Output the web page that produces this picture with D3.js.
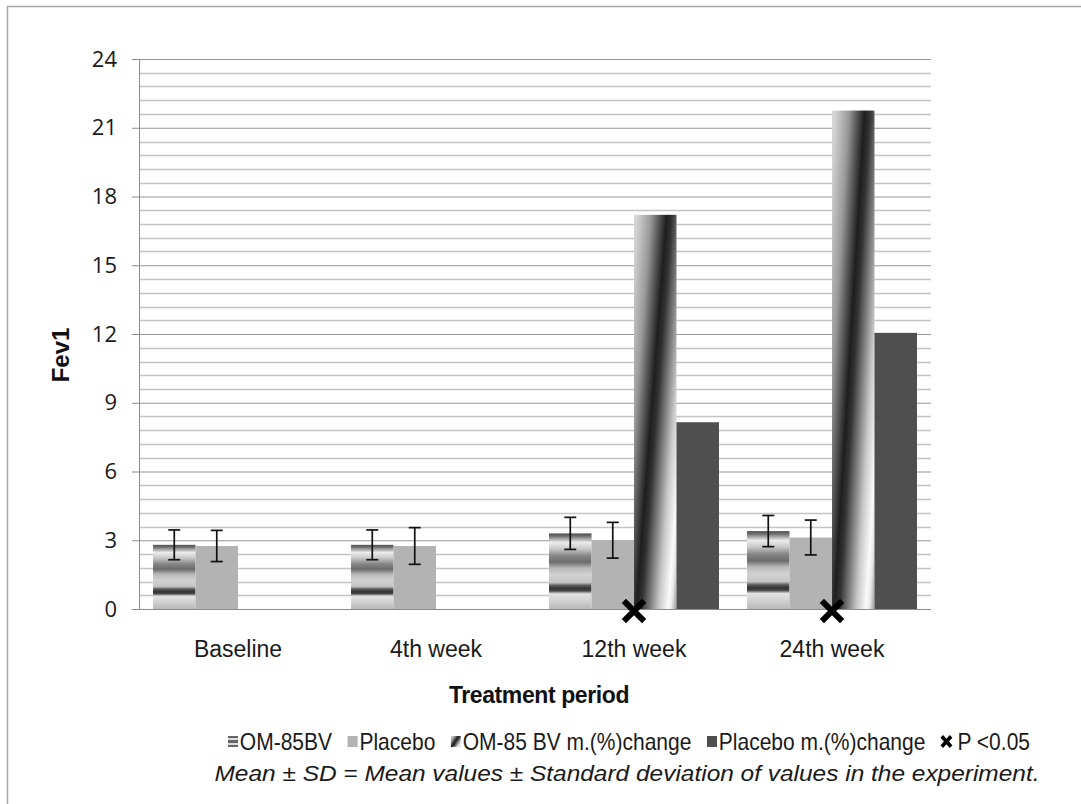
<!DOCTYPE html>
<html><head><meta charset="utf-8">
<script src="https://cdn.jsdelivr.net/npm/d3@7"></script>
<style>body{margin:0;background:#fff}svg{display:block}</style>
</head><body><svg id="c" width="1081" height="804"></svg>
<script>
// ---- data ----
const categories = ["Baseline", "4th week", "12th week", "24th week"];
const seriesNames = ["OM-85BV", "Placebo", "OM-85 BV m.(%)change", "Placebo m.(%)change"];
const omMean = [2.8, 2.8, 3.3, 3.4];
const omSD = [0.65, 0.65, 0.7, 0.68];
const placeboMean = [2.75, 2.75, 3.0, 3.12];
const placeboSD = [0.68, 0.8, 0.78, 0.76];
const omChange = [0, 0, 17.2, 21.75];
const placeboChange = [0, 0, 8.15, 12.05];
const significant = [false, false, true, true];
const yTicks = [0, 3, 6, 9, 12, 15, 18, 21, 24];
const sigLabel = "P <0.05";
const xTitle = "Treatment period";
const yTitle = "Fev1";
const footnote = "Mean \u00B1 SD = Mean values \u00B1 Standard deviation of values in the experiment.";

// ---- setup ----
const svg = d3.select("#c");
const defs = svg.append("defs");

// OM-85BV striped vertical gradient
const gOm = defs.append("linearGradient").attr("id", "gOm")
  .attr("x1", 0).attr("y1", 0).attr("x2", 0).attr("y2", 1);
[[0,"#555"],[0.03,"#666"],[0.12,"#ececec"],[0.2,"#cbcbcb"],[0.3,"#858585"],[0.38,"#6c6c6c"],
 [0.46,"#b8b8b8"],[0.55,"#d2d2d2"],[0.65,"#c4c4c4"],[0.69,"#5a5a5a"],[0.73,"#333"],[0.76,"#474747"],
 [0.8,"#e2e2e2"],[0.9,"#d0d0d0"],[1,"#b8b8b8"]]
 .forEach(([o,c]) => gOm.append("stop").attr("offset", o).attr("stop-color", c));

// OM-85 BV change diagonal gradient
const cmax = 1.72;
const gCh = defs.append("linearGradient").attr("id", "gCh")
  .attr("x1", 0).attr("y1", 0).attr("x2", 1.1328).attr("y2", 0.8156);
[[0,"#dadada"],[0.1,"#cfcfcf"],[0.4,"#999"],[0.6,"#555"],[0.77,"#1e1e1e"],[0.9,"#333"],
 [1.0,"#5a5a5a"],[1.3,"#c8c8c8"],[1.52,"#fafafa"],[1.6,"#e8e8e8"],[1.72,"#9a9a9a"]]
 .forEach(([c,col]) => gCh.append("stop").attr("offset", c / cmax).attr("stop-color", col));

// legend icon stripes
const gIcon = defs.append("linearGradient").attr("id", "gIcon")
  .attr("x1", 0).attr("y1", 0).attr("x2", 0).attr("y2", 1);
[[0,"#666"],[0.2,"#666"],[0.2,"#ddd"],[0.4,"#ddd"],[0.4,"#666"],[0.6,"#666"],[0.6,"#ddd"],[0.8,"#ddd"],[0.8,"#666"],[1,"#666"]]
 .forEach(([o,c]) => gIcon.append("stop").attr("offset", o).attr("stop-color", c));

const fills = {
  "OM-85BV": "url(#gOm)",
  "Placebo": "#b3b3b3",
  "OM-85 BV m.(%)change": "url(#gCh)",
  "Placebo m.(%)change": "#4f4f4f"
};
const iconFills = {
  "OM-85BV": "url(#gIcon)",
  "Placebo": "#b3b3b3",
  "OM-85 BV m.(%)change": "url(#gCh)",
  "Placebo m.(%)change": "#4f4f4f"
};

// outer border
svg.append("rect").attr("x", 7.5).attr("y", 6.5).attr("width", 1200).attr("height", 1000)
  .attr("fill", "none").attr("stroke", "#a8a8a8").attr("stroke-width", 1.5);

const plotL = 139, plotR = 931, plotT = 59, plotB = 609;
const x0 = d3.scaleBand().domain(categories).range([plotL, plotR]).paddingInner(0).paddingOuter(0);
const x1 = d3.scaleBand().domain(seriesNames).range([0, x0.bandwidth()]).paddingInner(0).paddingOuter(0.33);
const y = d3.scaleLinear().domain([0, 24]).range([plotB, plotT]);

// minor gridlines
const minor = d3.range(0, 41).filter(i => i % 5 !== 0).map(i => i * 0.6);
svg.append("g").selectAll("line").data(minor).join("line")
  .attr("x1", plotL).attr("x2", plotR)
  .attr("y1", d => Math.round(y(d)) + 0.5).attr("y2", d => Math.round(y(d)) + 0.5)
  .attr("stroke", "#c4c4c4").attr("stroke-width", 1.4);

// y axis with major gridlines
const yAxis = svg.append("g").attr("transform", `translate(${plotL},0)`)
  .call(d3.axisLeft(y).tickValues(yTicks).tickSize(7).tickPadding(15).tickFormat(d3.format("d")));
yAxis.select(".domain").remove();
yAxis.selectAll(".tick line").attr("stroke", "#8c8c8c");
yAxis.selectAll(".tick").append("line").attr("x1", 0).attr("x2", plotR - plotL)
  .attr("stroke", "#969696").attr("stroke-width", 1);
yAxis.selectAll(".tick text").attr("font-family", "'Open Sans', sans-serif")
  .attr("font-size", 22).attr("fill", "#1a1a1a");
svg.append("line").attr("x1", plotL + 0.5).attr("x2", plotL + 0.5).attr("y1", y(24)).attr("y2", y(0))
  .attr("stroke", "#8c8c8c");

// bars
const rows = categories.map((c, i) => ({
  cat: c, i,
  vals: [
    { s: seriesNames[0], v: omMean[i], sd: omSD[i] },
    { s: seriesNames[1], v: placeboMean[i], sd: placeboSD[i] },
    { s: seriesNames[2], v: omChange[i] },
    { s: seriesNames[3], v: placeboChange[i] }
  ]
}));
const groups = svg.append("g").selectAll("g").data(rows).join("g")
  .attr("transform", d => `translate(${x0(d.cat)},0)`);
groups.selectAll("rect").data(d => d.vals.filter(v => v.v > 0)).join("rect")
  .attr("x", d => x1(d.s)).attr("width", x1.bandwidth())
  .attr("y", d => y(d.v)).attr("height", d => y(0) - y(d.v))
  .attr("fill", d => fills[d.s]);

// x axis line
svg.append("line").attr("x1", plotL - 7).attr("x2", plotR).attr("y1", y(0) + 0.5).attr("y2", y(0) + 0.5)
  .attr("stroke", "#8c8c8c");

// error bars
const eb = groups.selectAll("g.eb").data(d => d.vals.filter(v => v.sd != null)).join("g").attr("class", "eb");
const cx = d => x1(d.s) + x1.bandwidth() / 2;
eb.append("line").attr("x1", cx).attr("x2", cx)
  .attr("y1", d => y(d.v + d.sd)).attr("y2", d => y(d.v - d.sd));
eb.append("line").attr("x1", d => cx(d) - 6).attr("x2", d => cx(d) + 6)
  .attr("y1", d => y(d.v + d.sd)).attr("y2", d => y(d.v + d.sd));
eb.append("line").attr("x1", d => cx(d) - 6).attr("x2", d => cx(d) + 6)
  .attr("y1", d => y(d.v - d.sd)).attr("y2", d => y(d.v - d.sd));
eb.selectAll("line").attr("stroke", "#111").attr("stroke-width", 1.7);

// significance markers
const xSym = d3.symbol(d3.symbolX, 270);
svg.append("g").selectAll("path").data(rows.filter(d => significant[d.i])).join("path")
  .attr("d", xSym)
  .attr("transform", d => `translate(${x0(d.cat) + x1(seriesNames[2])},${y(0) + 2})`)
  .attr("fill", "none").attr("stroke", "#000").attr("stroke-width", 6);

// category labels
svg.append("g").selectAll("text").data(categories).join("text")
  .attr("x", d => x0(d) + x0.bandwidth() / 2).attr("y", 657)
  .attr("text-anchor", "middle").attr("font-family", "'Liberation Sans', Arial, sans-serif")
  .attr("font-size", 23).attr("fill", "#1a1a1a").text(d => d);

// axis titles
svg.append("text").attr("x", 539).attr("y", 703).attr("text-anchor", "middle")
  .attr("font-family", "'Liberation Sans', Arial, sans-serif").attr("font-weight", "bold")
  .attr("font-size", 23).attr("letter-spacing", -0.4).attr("fill", "#111").text(xTitle);
svg.append("text").attr("transform", "translate(69,355) rotate(-90)").attr("text-anchor", "middle")
  .attr("font-family", "'Liberation Sans', Arial, sans-serif").attr("font-weight", "bold")
  .attr("font-size", 24).attr("fill", "#111").text(yTitle);

// legend
const leg = svg.append("g");
const legItems = seriesNames.map(s => ({ label: s, type: "box", fill: iconFills[s] }))
  .concat([{ label: sigLabel, type: "x" }]);
let cur = 0;
legItems.forEach((it, k) => {
  const g = leg.append("g").attr("transform", `translate(${cur},0)`);
  if (it.type === "box") {
    g.append("rect").attr("x", 0).attr("y", 736).attr("width", 11).attr("height", 11).attr("fill", it.fill);
  } else {
    g.append("path").attr("d", d3.symbol(d3.symbolX, 70)).attr("transform", "translate(6,741.5)")
      .attr("fill", "none").attr("stroke", "#000").attr("stroke-width", 4);
  }
  const t = g.append("text").attr("x", it.type === "box" ? 13 : 18).attr("y", 750)
    .attr("font-family", "'Liberation Sans', Arial, sans-serif").attr("font-size", 23)
    .attr("fill", "#1a1a1a").text(it.label);
  cur += (it.type === "box" ? 13 : 18) + t.node().getComputedTextLength() + 17;
});
const legW = cur - 17;
const targetW = 1030 - 228;
leg.attr("transform", `translate(228,0) scale(${targetW / legW},1)`);

// footnote
svg.append("text").attr("x", 627).attr("y", 781).attr("text-anchor", "middle")
  .attr("font-family", "'Liberation Sans', Arial, sans-serif").attr("font-style", "italic")
  .attr("font-size", 22).attr("fill", "#1a1a1a")
  .attr("textLength", 825).attr("lengthAdjust", "spacingAndGlyphs").text(footnote);
</script></body></html>
